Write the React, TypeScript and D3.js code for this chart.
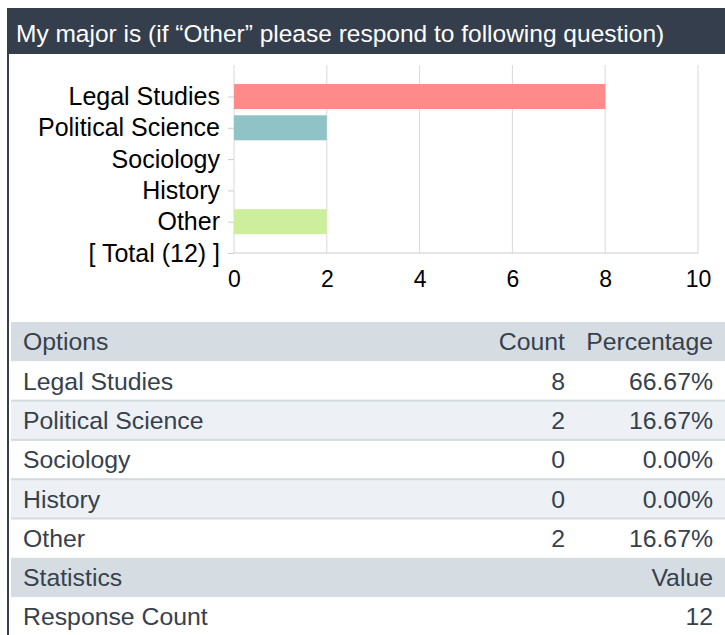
import React, { useRef, useEffect } from 'react';
import * as d3 from 'd3';

const title = 'My major is (if “Other” please respond to following question)';
const categories = ['Legal Studies', 'Political Science', 'Sociology', 'History', 'Other'];
const counts = [8, 2, 0, 0, 2];
const percentages = ['66.67%', '16.67%', '0.00%', '0.00%', '16.67%'];
const barColors = ['#fe8a8a', '#90c3c6', '#f5c77e', '#a9b6e2', '#cdee9c'];
const totalLabel = '[ Total (12) ]';
const xTicks = [0, 2, 4, 6, 8, 10];
const tableHeader = ['Options', 'Count', 'Percentage'];
const statsHeader = ['Statistics', 'Value'];
const statsRows = [['Response Count', '12']];

const FONT = '"Liberation Sans", Arial, Helvetica, sans-serif';

const App = () => {
  const ref = useRef<SVGSVGElement>(null);
  const width = 725, height = 635;

  useEffect(() => {
    const svg = d3.select(ref.current);
    svg.selectAll('*').remove();

    // header bar + left border
    svg.append('rect').attr('x', 7).attr('y', 8).attr('width', width - 7).attr('height', 46).attr('fill', '#343e4c');
    svg.append('rect').attr('x', 7).attr('y', 54).attr('width', 2).attr('height', height - 54).attr('fill', '#343e4c');
    svg.append('text').attr('x', 16).attr('y', 42).attr('fill', '#ffffff')
      .style('font-family', FONT).style('font-size', '24.5px').text(title);

    // chart
    const x = d3.scaleLinear().domain([0, 10]).range([234, 698]);
    const y = d3.scalePoint<string>().domain([...categories, totalLabel]).range([96.5, 253]);
    const chart = svg.append('g');

    chart.selectAll('line.grid').data(xTicks).enter().append('line')
      .attr('class', 'grid')
      .attr('x1', d => x(d)).attr('x2', d => x(d))
      .attr('y1', 65).attr('y2', 253)
      .attr('stroke', '#d9d9d9').attr('stroke-width', 1);

    chart.append('line').attr('x1', x(0)).attr('x2', x(10)).attr('y1', 253).attr('y2', 253)
      .attr('stroke', '#cccccc');

    chart.selectAll('rect.bar').data(categories).enter().append('rect')
      .attr('class', 'bar')
      .attr('x', x(0))
      .attr('y', d => (y(d) as number) - 12.5)
      .attr('width', (d, i) => x(counts[i]) - x(0))
      .attr('height', 25)
      .attr('fill', (d, i) => barColors[i]);

    const yAxis = chart.append('g').attr('transform', `translate(${x(0)},0)`)
      .call(d3.axisLeft(y).tickSize(6).tickPadding(8));
    yAxis.select('.domain').remove();
    yAxis.selectAll('line').attr('stroke', '#cccccc');
    yAxis.selectAll('text').style('font-family', FONT).style('font-size', '25px').attr('fill', '#000');

    const xAxis = chart.append('g').attr('transform', 'translate(0,253)')
      .call(d3.axisBottom(x).tickValues(xTicks).tickSize(0).tickPadding(18).tickFormat(d3.format('d')));
    xAxis.select('.domain').remove();
    xAxis.selectAll('text').style('font-family', FONT).style('font-size', '23px').attr('fill', '#000');

    // table
    const rowTop = 322, rowH = 39.3, left = 11;
    const textColor = '#36414d';
    const headBg = '#d6dde2', lightBg = '#edf1f5', lineColor = '#d3dbe0';
    const table = svg.append('g').style('font-family', FONT).style('font-size', '24.8px');
    const rowY = (i: number) => rowTop + i * rowH;
    const base = (i: number) => rowY(i) + rowH / 2 + 8.7;

    const cell = (txt: string, xx: number, i: number, anchor: string) =>
      table.append('text').attr('x', xx).attr('y', base(i)).attr('text-anchor', anchor)
        .attr('fill', textColor).text(txt);

    table.append('rect').attr('x', left).attr('y', rowY(0)).attr('width', width - left).attr('height', rowH).attr('fill', headBg);
    cell(tableHeader[0], 23, 0, 'start');
    cell(tableHeader[1], 565, 0, 'end');
    cell(tableHeader[2], 713, 0, 'end');

    categories.forEach((c, i) => {
      const r = i + 1;
      table.append('rect').attr('x', left).attr('y', rowY(r)).attr('width', width - left).attr('height', rowH)
        .attr('fill', i % 2 === 1 ? lightBg : '#ffffff');
      if (i > 0) {
        table.append('rect').attr('x', left).attr('y', rowY(r) - 1).attr('width', width - left).attr('height', 2).attr('fill', lineColor);
      }
    });
    categories.forEach((c, i) => {
      const r = i + 1;
      cell(c, 23, r, 'start');
      cell(String(counts[i]), 565, r, 'end');
      cell(percentages[i], 713, r, 'end');
    });

    const sr = categories.length + 1;
    table.append('rect').attr('x', left).attr('y', rowY(sr)).attr('width', width - left).attr('height', rowH).attr('fill', headBg);
    cell(statsHeader[0], 23, sr, 'start');
    cell(statsHeader[1], 713, sr, 'end');
    statsRows.forEach((row, i) => {
      cell(row[0], 23, sr + 1 + i, 'start');
      cell(row[1], 713, sr + 1 + i, 'end');
    });
  }, []);

  return (
    <div style={{ position: 'absolute', left: 0, top: 0 }}>
      <svg ref={ref} width={width} height={height} style={{ display: 'block', background: '#fff' }} />
    </div>
  );
};

export default App;
